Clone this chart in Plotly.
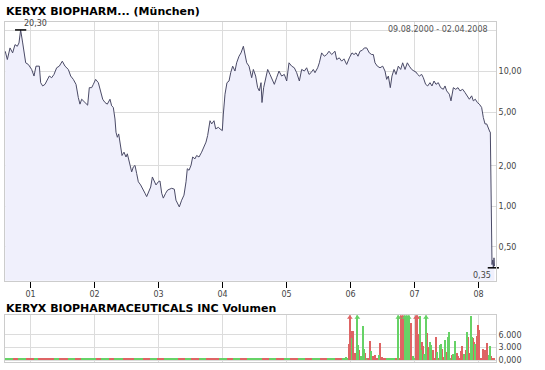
import math
import plotly.graph_objects as go

# ---------------- data (decimal years) ----------------
price_x = [2000.605, 2000.638, 2000.680, 2000.721, 2000.758, 2000.794, 2000.820, 2000.846, 2000.878, 2000.904,
           2000.925, 2000.966, 2001.018, 2001.055, 2001.086, 2001.138, 2001.159, 2001.190, 2001.227, 2001.253,
           2001.294, 2001.331, 2001.367, 2001.409, 2001.450, 2001.497, 2001.539, 2001.591, 2001.628, 2001.669,
           2001.711, 2001.747, 2001.773, 2001.800, 2001.852, 2001.893, 2001.919, 2001.956, 2001.982, 2002.018,
           2002.060, 2002.086, 2002.128, 2002.164, 2002.200, 2002.242, 2002.268, 2002.294, 2002.320, 2002.336,
           2002.357, 2002.378, 2002.409, 2002.430, 2002.461, 2002.492, 2002.513, 2002.544, 2002.581, 2002.607,
           2002.633, 2002.659, 2002.685, 2002.721, 2002.753, 2002.789, 2002.815, 2002.852, 2002.878, 2002.904,
           2002.930, 2002.961, 2002.997, 2003.023, 2003.050, 2003.075, 2003.112, 2003.143, 2003.206, 2003.247,
           2003.273, 2003.325, 2003.362, 2003.398, 2003.430, 2003.450, 2003.477, 2003.508, 2003.534, 2003.570,
           2003.596, 2003.633, 2003.674, 2003.716, 2003.742, 2003.768, 2003.805, 2003.831, 2003.867, 2003.893,
           2003.935, 2003.961, 2003.997, 2004.013, 2004.039, 2004.070, 2004.102, 2004.128, 2004.159, 2004.195,
           2004.221, 2004.258, 2004.289, 2004.326, 2004.352, 2004.378, 2004.414, 2004.456, 2004.482, 2004.518,
           2004.549, 2004.575, 2004.602, 2004.617, 2004.643, 2004.680, 2004.706, 2004.742, 2004.779, 2004.810,
           2004.846, 2004.883, 2004.924, 2004.966, 2005.003, 2005.039, 2005.081, 2005.122, 2005.159, 2005.201,
           2005.237, 2005.279, 2005.315, 2005.352, 2005.383, 2005.419, 2005.445, 2005.487, 2005.513, 2005.549,
           2005.591, 2005.628, 2005.664, 2005.706, 2005.758, 2005.784, 2005.825, 2005.862, 2005.898, 2005.940,
           2005.982, 2006.023, 2006.055, 2006.086, 2006.117, 2006.148, 2006.185, 2006.216, 2006.253, 2006.294,
           2006.331, 2006.357, 2006.383, 2006.419, 2006.461, 2006.503, 2006.539, 2006.565, 2006.591, 2006.622,
           2006.648, 2006.680, 2006.711, 2006.747, 2006.784, 2006.815, 2006.852, 2006.888, 2006.919, 2006.956,
           2006.992, 2007.023, 2007.049, 2007.075, 2007.112, 2007.138, 2007.174, 2007.206, 2007.242, 2007.273,
           2007.305, 2007.336, 2007.372, 2007.409, 2007.450, 2007.477, 2007.503, 2007.544, 2007.570, 2007.607,
           2007.643, 2007.680, 2007.711, 2007.753, 2007.789, 2007.826, 2007.857, 2007.893, 2007.919, 2007.950,
           2007.982, 2008.013, 2008.049, 2008.075, 2008.102, 2008.128, 2008.154, 2008.180, 2008.185, 2008.195,
           2008.211, 2008.222, 2008.232, 2008.242, 2008.250]
price_y = [14.11, 12.25, 14.93, 13.72, 15.80, 15.36, 16.25, 20.30, 16.25, 13.72,
           11.58, 11.26, 10.34, 9.24, 10.94, 10.94, 8.25, 7.80, 8.02, 8.49,
           9.24, 8.98, 9.50, 10.64, 10.94, 11.91, 10.94, 10.34, 9.24, 8.73,
           8.02, 6.40, 5.72, 6.22, 5.88, 5.62, 7.58, 7.58, 8.02, 8.73,
           8.25, 7.37, 6.22, 5.88, 5.72, 6.22, 5.56, 5.41, 4.44, 3.54,
           3.25, 3.44, 2.75, 2.38, 2.52, 2.32, 2.45, 2.07, 1.80, 1.96,
           2.01, 1.75, 1.52, 1.44, 1.36, 1.25, 1.18, 1.28, 1.39, 1.65,
           1.56, 1.44, 1.52, 1.54, 1.25, 1.15, 1.25, 1.32, 1.36, 1.34,
           1.11, 0.99, 1.11, 1.21, 1.52, 1.90, 1.85, 2.01, 2.32, 2.25,
           2.38, 2.32, 2.52, 2.82, 2.99, 3.35, 4.31, 4.08, 4.31, 3.75,
           3.85, 3.75, 3.64, 4.83, 6.78, 8.25, 8.49, 9.78, 10.94, 10.06,
           11.58, 12.96, 13.72, 15.36, 13.34, 11.58, 10.94, 8.98, 10.34, 9.24,
           7.58, 7.17, 8.25, 5.88, 7.58, 9.24, 10.34, 9.50, 8.73, 8.02,
           8.98, 10.06, 9.24, 9.50, 8.49, 11.58, 10.94, 10.64, 9.78, 8.49,
           10.34, 10.06, 10.64, 9.50, 9.78, 10.34, 9.78, 10.64, 11.58, 13.72,
           12.96, 13.34, 14.11, 13.34, 14.11, 12.25, 12.60, 11.91, 12.39, 11.26,
           12.60, 13.72, 13.34, 13.72, 12.96, 14.11, 14.35, 14.93, 14.93, 13.72,
           13.34, 13.34, 11.58, 10.94, 10.64, 10.94, 10.06, 8.73, 9.24, 7.58,
           9.24, 10.34, 9.50, 10.94, 10.34, 11.58, 10.34, 11.58, 10.94, 10.34,
           10.06, 9.89, 9.50, 9.24, 9.50, 8.98, 8.02, 7.80, 8.25, 7.80,
           8.49, 8.02, 8.25, 7.58, 7.37, 7.80, 7.17, 6.78, 6.05, 7.58,
           7.37, 7.58, 7.17, 7.37, 6.97, 6.59, 6.22, 6.59, 6.05, 6.22,
           5.88, 5.72, 5.41, 4.56, 4.08, 4.08, 3.75, 3.54, 3.54, 1.21,
           0.37, 0.40, 0.35, 0.415, 0.36]

# small baseline volume strip (segments start year, colour)
base_start = [2000.605, 2000.72, 2000.81, 2000.93, 2001.05, 2001.12, 2001.26, 2001.37, 2001.45, 2001.58,
              2001.70, 2001.79, 2001.90, 2002.02, 2002.10, 2002.22, 2002.31, 2002.44, 2002.53, 2002.62,
              2002.75, 2002.86, 2002.97, 2003.08, 2003.17, 2003.30, 2003.41, 2003.50, 2003.63, 2003.74,
              2003.82, 2003.95, 2004.07, 2004.16, 2004.28, 2004.39, 2004.50, 2004.61, 2004.73, 2004.84,
              2004.96, 2005.05, 2005.18, 2005.29, 2005.40, 2005.52, 2005.63, 2005.75, 2005.86, 2005.97,
              2006.10, 2006.25, 2006.40, 2006.55, 2006.70, 2006.85, 2007.00, 2007.15, 2007.30, 2007.45,
              2007.60, 2007.75, 2007.90, 2008.05, 2008.25]
base_color = ["g", "r", "g", "r", "g", "r", "r", "g", "r", "g",
              "r", "g", "g", "r", "g", "r", "g", "r", "r", "g",
              "r", "g", "r", "g", "g", "r", "g", "r", "g", "r",
              "r", "g", "r", "g", "r", "g", "g", "r", "g", "r",
              "g", "r", "g", "r", "g", "r", "g", "r", "g", "r",
              "g", "r", "r", "g", "r", "g", "r", "g", "r", "g",
              "r", "g", "r", "r"]
base_vol = 450

vol_red_x = [2005.977, 2006.029, 2006.044, 2006.070, 2006.086, 2006.138, 2006.232, 2006.305, 2006.357, 2006.383,
             2006.466, 2006.487, 2006.930, 2006.945, 2007.060, 2007.075, 2007.112, 2007.128, 2007.201, 2007.216,
             2007.268, 2007.294, 2007.336, 2007.424, 2007.450, 2007.503, 2007.581, 2007.659, 2007.685, 2007.727,
             2007.747, 2007.805, 2007.831, 2007.857, 2007.919, 2007.930, 2007.971, 2007.987, 2008.008, 2008.034,
             2008.065, 2008.086, 2008.107, 2008.138, 2008.195]
vol_red_y = [3700, 6850, 6850, 1500, 550, 2280, 1500, 4490, 950, 1180,
             4020, 550, 1340, 8740, 6060, 5670, 4090, 3310, 6460, 2910,
             2130, 2280, 5280, 2520, 550, 1730, 1180, 1500, 950, 2130,
             3310, 2280, 5430, 1500, 5120, 4090, 5670, 8270, 7010, 390,
             2520, 1730, 2280, 3860, 950]
vol_green_x = [2005.930, 2006.008, 2006.122, 2006.164, 2006.201, 2006.216, 2006.315, 2006.451, 2006.971, 2007.086,
               2007.096, 2007.148, 2007.242, 2007.258, 2007.357, 2007.398, 2007.414, 2007.477, 2007.529, 2007.544,
               2007.607, 2007.633, 2007.773, 2007.820, 2007.883, 2007.898, 2007.945, 2008.159, 2008.180]
vol_green_y = [710, 5120, 3540, 950, 8030, 2520, 2130, 1180, 950, 10390,
               2280, 1340, 4090, 3540, 1730, 3540, 3700, 4650, 5430, 6690,
               1340, 4490, 1340, 6690, 10390, 5280, 3700, 1180, 3310]
over_red_x = [2005.990, 2006.784, 2006.815, 2007.023, 2007.044]
over_green_x = [2006.107, 2006.747, 2006.846, 2006.878, 2006.909, 2007.180]
over_val = 14000

year_ticks = [2001, 2002, 2003, 2004, 2005, 2006, 2007, 2008]
year_labels = ["01", "02", "03", "04", "05", "06", "07", "08"]
price_ticks = [0.5, 1, 2, 5, 10, 20]
price_labels = ["0,50", "1,00", "2,00", "5,00", "10,00", ""]
vol_ticks = [0, 3000, 6000]
vol_labels = ["0,000", "3.000", "6.000"]

title_main = "KERYX BIOPHARM... (München)"
title_vol = "KERYX BIOPHARMACEUTICALS INC Volumen"
date_range = "09.08.2000 - 02.04.2008"

# ---------------- styling ----------------
W, H = 545, 370
FONT = "DejaVu Sans"
RED = "#de6464"
GREEN = "#66d266"
LINE = "#4a4a66"
FILL = "#f0f0fc"
GRID = "#dcdcdc"
BORDER = "#cccccc"
TXT = "#444444"
BARW = 0.017

def px_x(p):
    return p / W

def px_y(p):
    return (H - p) / H

x_range = [2000.6016, 2008.2734]

fig = go.Figure()

# baseline for fill
fig.add_trace(go.Scatter(x=[price_x[0], price_x[-1]], y=[0.2, 0.2], mode="lines",
                         line=dict(width=0, color=FILL), showlegend=False, hoverinfo="skip",
                         xaxis="x", yaxis="y"))
fig.add_trace(go.Scatter(x=price_x, y=price_y, mode="lines", fill="tonexty", fillcolor=FILL,
                         line=dict(color=LINE, width=1), showlegend=False, xaxis="x", yaxis="y"))

# max / min markers
i_max = price_y.index(max(price_y))
i_min = price_y.index(min(price_y))
fig.add_trace(go.Scatter(x=[price_x[i_max], price_x[i_min]], y=[price_y[i_max], price_y[i_min]],
                         mode="markers", marker=dict(symbol="line-ew", size=8,
                                                     line=dict(width=1.5, color="black")),
                         showlegend=False, xaxis="x", yaxis="y", cliponaxis=False))

# volume: baseline strip
bx, by, bw, bc = [], [], [], []
for i in range(len(base_start) - 1):
    bx.append((base_start[i] + base_start[i + 1]) / 2)
    bw.append(base_start[i + 1] - base_start[i])
    by.append(base_vol)
    bc.append(RED if base_color[i] == "r" else GREEN)
fig.add_trace(go.Bar(x=bx, y=by, width=bw, marker=dict(color=bc, line=dict(width=0)),
                     showlegend=False, xaxis="x2", yaxis="y2"))
fig.add_trace(go.Bar(x=vol_red_x, y=vol_red_y, width=BARW, marker=dict(color=RED, line=dict(width=0)),
                     showlegend=False, xaxis="x2", yaxis="y2"))
fig.add_trace(go.Bar(x=vol_green_x, y=vol_green_y, width=BARW, marker=dict(color=GREEN, line=dict(width=0)),
                     showlegend=False, xaxis="x2", yaxis="y2"))
fig.add_trace(go.Bar(x=over_red_x, y=[over_val] * len(over_red_x), width=BARW,
                     marker=dict(color=RED, line=dict(width=0)), showlegend=False, xaxis="x2", yaxis="y2"))
fig.add_trace(go.Bar(x=over_green_x, y=[over_val] * len(over_green_x), width=BARW,
                     marker=dict(color=GREEN, line=dict(width=0)), showlegend=False, xaxis="x2", yaxis="y2"))
fig.add_trace(go.Scatter(x=over_red_x, y=[10150] * len(over_red_x), mode="markers",
                         marker=dict(symbol="triangle-up", size=5, color=RED),
                         showlegend=False, xaxis="x2", yaxis="y2", cliponaxis=False))
fig.add_trace(go.Scatter(x=over_green_x, y=[10150] * len(over_green_x), mode="markers",
                         marker=dict(symbol="triangle-up", size=5, color=GREEN),
                         showlegend=False, xaxis="x2", yaxis="y2", cliponaxis=False))

axis_common = dict(showgrid=True, gridcolor=GRID, gridwidth=1, zeroline=False,
                   showline=True, linecolor=BORDER, linewidth=1, mirror=True)

fig.update_layout(
    width=W, height=H, margin=dict(l=0, r=0, t=0, b=0),
    paper_bgcolor="white", plot_bgcolor="white",
    font=dict(family=FONT, size=8, color=TXT),
    bargap=0, barmode="overlay", showlegend=False,
    xaxis=dict(domain=[px_x(5), px_x(496)], range=x_range, anchor="y",
               tickmode="array", tickvals=year_ticks, ticktext=year_labels,
               ticks="outside", ticklen=6, tickcolor="black", tickwidth=1,
               tickfont=dict(size=8, color=TXT), **axis_common),
    yaxis=dict(domain=[px_y(283), px_y(22)], type="log", range=[-0.5515, 1.3676], anchor="x",
               side="right", tickmode="array", tickvals=price_ticks, ticktext=price_labels,
               ticks="", tickfont=dict(size=8, color=TXT), **axis_common),
    xaxis2=dict(domain=[px_x(5), px_x(496)], range=x_range, anchor="y2", matches="x",
                tickmode="array", tickvals=year_ticks, showticklabels=False, ticks="",
                **axis_common),
    yaxis2=dict(domain=[px_y(364.5), px_y(318)], range=[-350, 10630], anchor="x2",
                side="right", tickmode="array", tickvals=vol_ticks, ticktext=vol_labels,
                ticks="", tickfont=dict(size=8, color=TXT), **axis_common),
    annotations=[
        dict(text="<b>" + title_main + "</b>", xref="paper", yref="paper", x=px_x(4), y=px_y(12),
             xanchor="left", yanchor="middle", showarrow=False, font=dict(size=11, color="black")),
        dict(text="<b>" + title_vol + "</b>", xref="paper", yref="paper", x=px_x(4), y=px_y(311),
             xanchor="left", yanchor="middle", showarrow=False, font=dict(size=11, color="black")),
        dict(text=date_range, xref="paper", yref="paper", x=px_x(490), y=px_y(30),
             xanchor="right", yanchor="middle", showarrow=False, font=dict(size=8, color="#555555")),
        dict(text="20,30", xref="x", yref="y", x=price_x[i_max], y=math.log10(price_y[i_max]),
             xanchor="left", yanchor="bottom", showarrow=False, xshift=1, yshift=0,
             font=dict(size=8, color=TXT)),
        dict(text="0,35", xref="x", yref="y", x=price_x[i_min], y=math.log10(price_y[i_min]),
             xanchor="right", yanchor="top", showarrow=False, xshift=0, yshift=-1,
             font=dict(size=8, color=TXT)),
    ],
)

fig.write_html("out.html")
